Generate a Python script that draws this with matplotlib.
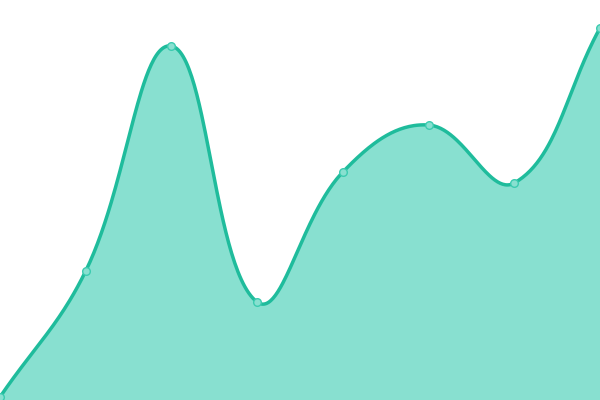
import numpy as np
import matplotlib
matplotlib.use('Agg')
import matplotlib.pyplot as plt

x_idx = [0, 1, 2, 3, 4, 5, 6, 7]
values = [3, 129, 354, 98, 228, 275, 217, 372]

W, H = 600, 400
line_color = '#1fbc9c'
fill_color = '#88e0d0'

xs = np.array(x_idx, dtype=float)
ys = np.array(values, dtype=float)
px = xs * W / (len(xs) - 1)  # pixel-space x for distances


def ctrl_points(t=0.4):
    n = len(xs)
    prev_c, next_c = [], []
    for i in range(n):
        a = max(i - 1, 0)
        b = min(i + 1, n - 1)
        p0 = np.array([px[a], ys[a]])
        p1 = np.array([px[i], ys[i]])
        p2 = np.array([px[b], ys[b]])
        d01 = np.hypot(*(p1 - p0))
        d12 = np.hypot(*(p2 - p1))
        tot = d01 + d12
        s01 = d01 / tot if tot else 0
        s12 = d12 / tot if tot else 0
        prev_c.append(p1 - t * s01 * (p2 - p0))
        next_c.append(p1 + t * s12 * (p2 - p0))
    return prev_c, next_c


prev_c, next_c = ctrl_points()
cx, cy = [], []
tt = np.linspace(0, 1, 60)
for i in range(len(xs) - 1):
    P0 = np.array([px[i], ys[i]])
    P1 = next_c[i]
    P2 = prev_c[i + 1]
    P3 = np.array([px[i + 1], ys[i + 1]])
    pts = ((1 - tt) ** 3)[:, None] * P0 + (3 * (1 - tt) ** 2 * tt)[:, None] * P1 \
        + (3 * (1 - tt) * tt ** 2)[:, None] * P2 + (tt ** 3)[:, None] * P3
    cx.extend(pts[:, 0] * (len(xs) - 1) / W)
    cy.extend(pts[:, 1])

fig = plt.figure(figsize=(6, 4), dpi=100)
ax = fig.add_axes([0, 0, 1, 1])
ax.fill_between(cx, cy, 0, color=fill_color, lw=0)
ax.plot(cx, cy, color=line_color, lw=2.5, solid_capstyle='round')
ax.plot(xs, ys, 'o', ms=5.5, mfc=fill_color, mec='#3ccbb0', mew=1)
ax.set_xlim(0, 7)
ax.set_ylim(0, 400)
ax.axis('off')
fig.savefig('out.png', dpi=100)
